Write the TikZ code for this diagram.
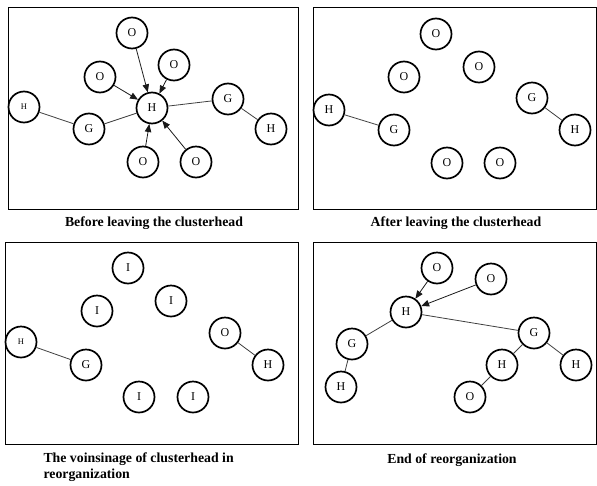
\documentclass[tikz,border=0pt]{standalone}
\usepackage{fontspec}
\setmainfont{Liberation Serif}
\usetikzlibrary{arrows}

\begin{document}
\begin{tikzpicture}
[x=1pt,y=-1pt]
\tikzset{
	station/.style = {circle, draw, line width = 1.7pt, minimum size = 31pt, inner sep = 0, font = \fontsize{12}{12}\selectfont},
	tiny/.style = {font = \fontsize{8.5}{8.5}\selectfont},
	link/.style = {draw = black!75, line width = 0.8pt},
	pointer/.style = {draw = black!90, line width = 0.8pt, -triangle 45},
	frame/.style = {draw, line width = 0.9pt},
	caption/.style = {font = \fontsize{13.8}{16}\selectfont\bfseries}
}
\useasboundingbox (0,0) rectangle (597,485);

% before leaving
\draw[frame] (8,7) rectangle (298,209);
\node(a1) [station] at (132,33) {O};
\node(a2) [station] at (174,65) {O};
\node(a3) [station] at (100,77) {O};
\node(a4) [station] at (152,108) {H};
\node(a5) [station,tiny] at (24,107) {H};
\node(a6) [station] at (89,129) {G};
\node(a7) [station] at (228,99) {G};
\node(a8) [station] at (271,129) {H};
\node(a9) [station] at (143,162) {O};
\node(a10) [station] at (196,162) {O};
\draw[link] (a5) -- (a6) -- (a4) -- (a7) -- (a8);
\draw[pointer] (a1) -- (a4);
\draw[pointer] (a2) -- (a4);
\draw[pointer] (a3) -- (a4);
\draw[pointer] (a9) -- (a4);
\draw[pointer] (a10) -- (a4);
\node(c1) [caption] at (154,223) {Before leaving the clusterhead};

% after leaving
\draw[frame] (313,7) rectangle (596.5,209);
\node(b1) [station] at (436,34) {O};
\node(b2) [station] at (479,67) {O};
\node(b3) [station] at (404,77) {O};
\node(b4) [station] at (329,110) {H};
\node(b5) [station] at (394,130) {G};
\node(b6) [station] at (532,98) {G};
\node(b7) [station] at (575,130) {H};
\node(b8) [station] at (447,163) {O};
\node(b9) [station] at (500,163) {O};
\draw[link] (b4) -- (b5);
\draw[link] (b6) -- (b7);
\node(c2) [caption] at (456,223) {After leaving the clusterhead};

% voisinage
\draw[frame] (5,242) rectangle (298,444);
\node(d1) [station] at (128,268) {I};
\node(d2) [station] at (171,301) {I};
\node(d3) [station] at (97,311) {I};
\node(d4) [station,tiny] at (21,342) {H};
\node(d5) [station] at (86,365) {G};
\node(d6) [station] at (225,333) {O};
\node(d7) [station] at (268,365) {H};
\node(d8) [station] at (139,397) {I};
\node(d9) [station] at (193,397) {I};
\draw[link] (d4) -- (d5);
\draw[link] (d6) -- (d7);
\node(c3) [caption, align=left, anchor=north west] at (40,449) {The voinsinage of clusterhead in\\reorganization};

% end
\draw[frame] (313,242) rectangle (596.5,444);
\node(e1) [station] at (437,268) {O};
\node(e2) [station] at (491,279) {O};
\node(e3) [station] at (406,312) {H};
\node(e4) [station] at (352,344) {G};
\node(e5) [station] at (341,387) {H};
\node(e6) [station] at (534,333) {G};
\node(e7) [station] at (502,365) {H};
\node(e8) [station] at (576,365) {H};
\node(e9) [station] at (470,397) {O};
\draw[pointer] (e1) -- (e3);
\draw[pointer] (e2) -- (e3);
\draw[link] (e5) -- (e4) -- (e3) -- (e6) -- (e8);
\draw[link] (e6) -- (e7) -- (e9);
\node(c4) [caption] at (452,460) {End of reorganization};

\end{tikzpicture}
\end{document}
